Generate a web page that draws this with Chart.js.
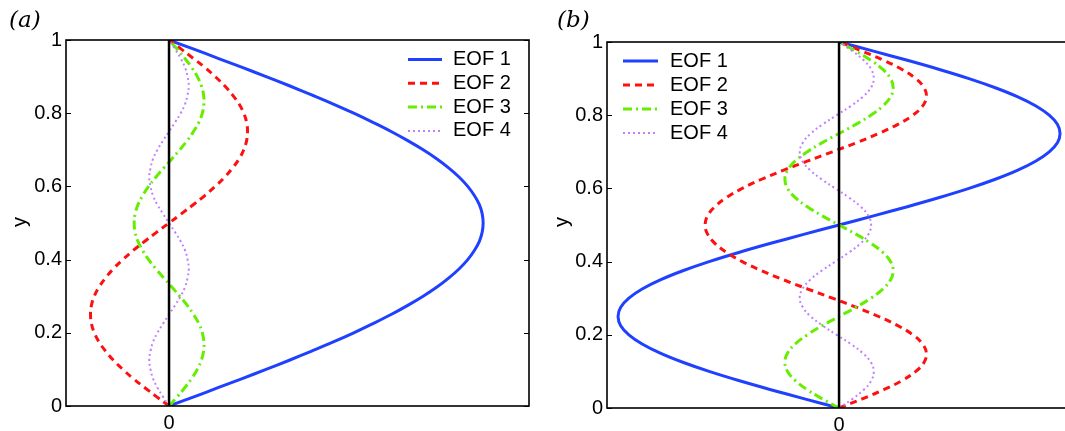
<!DOCTYPE html>
<html><head><meta charset="utf-8">
<script src="https://cdn.jsdelivr.net/npm/chart.js@4/dist/chart.umd.min.js"></script>
<style>
html,body{margin:0;padding:0;background:#fff;overflow:hidden;width:1065px;height:431px;}
#wrap{position:relative;width:1065px;height:431px;overflow:hidden;}
.pl{position:absolute;font-family:"DejaVu Serif",serif;font-style:italic;font-size:23px;color:#000;line-height:1;}
#ca{position:absolute;left:0;top:0;width:540px;height:431px;}
#cb{position:absolute;left:545px;top:0;width:540px;height:431px;}
</style></head><body>
<div id="wrap">
<canvas id="ca" width="540" height="431"></canvas>
<canvas id="cb" width="540" height="431"></canvas>
<div class="pl" style="left:9px;top:8px">(a)</div>
<div class="pl" style="left:557px;top:8px">(b)</div>
</div>
<script>
// ---- data ----
const yLevels = [0, 0.025, 0.05, 0.075, 0.1, 0.125, 0.15, 0.175, 0.2, 0.225, 0.25, 0.275, 0.3, 0.325, 0.35, 0.375, 0.4, 0.425, 0.45, 0.475, 0.5, 0.525, 0.55, 0.575, 0.6, 0.625, 0.65, 0.675, 0.7, 0.725, 0.75, 0.775, 0.8, 0.825, 0.85, 0.875, 0.9, 0.925, 0.95, 0.975, 1];

// panel (a)
const eofA1 = [0, .079, .156, .233, .309, .383, .454, .523, .588, .649, .707, .760, .809, .853, .891, .924, .951, .972, .988, .997, 1, .997, .988, .972, .951, .924, .891, .853, .809, .760, .707, .649, .588, .523, .454, .383, .309, .233, .156, .079, 0];
const eofA2 = [0, -.039, -.077, -.114, -.147, -.177, -.202, -.223, -.238, -.247, -.25, -.247, -.238, -.223, -.202, -.177, -.147, -.114, -.077, -.039, 0, .039, .077, .114, .147, .177, .202, .223, .238, .247, .25, .247, .238, .223, .202, .177, .147, .114, .077, .039, 0];
const eofA3 = [0, .026, .050, .072, .090, .103, .110, .111, .106, .095, .078, .058, .034, .009, -.017, -.042, -.065, -.084, -.099, -.108, -.111, -.108, -.099, -.084, -.065, -.042, -.017, .009, .034, .058, .078, .095, .106, .111, .110, .103, .090, .072, .050, .026, 0];
const eofA4 = [0, -.019, -.037, -.051, -.059, -.063, -.059, -.051, -.037, -.019, 0, .019, .037, .051, .059, .063, .059, .051, .037, .019, 0, -.019, -.037, -.051, -.059, -.063, -.059, -.051, -.037, -.019, 0, .019, .037, .051, .059, .063, .059, .051, .037, .019, 0];

// panel (b)
const eofB1 = [0, -.156, -.309, -.454, -.588, -.707, -.809, -.891, -.951, -.988, -1, -.988, -.951, -.891, -.809, -.707, -.588, -.454, -.309, -.156, 0, .156, .309, .454, .588, .707, .809, .891, .951, .988, 1, .988, .951, .891, .809, .707, .588, .454, .309, .156, 0];
const eofB2 = [0, .105, .202, .285, .347, .385, .395, .378, .334, .266, .179, .079, -.030, -.141, -.250, -.350, -.438, -.509, -.562, -.595, -.606, -.595, -.562, -.509, -.438, -.350, -.250, -.141, -.030, .079, .179, .266, .334, .378, .395, .385, .347, .285, .202, .105, 0];
const eofB3 = [0, -.076, -.144, -.198, -.233, -.245, -.233, -.198, -.144, -.076, 0, .076, .144, .198, .233, .245, .233, .198, .144, .076, 0, -.076, -.144, -.198, -.233, -.245, -.233, -.198, -.144, -.076, 0, .076, .144, .198, .233, .245, .233, .198, .144, .076, 0];
const eofB4 = [0, .061, .112, .146, .157, .144, .107, .053, -.011, -.074, -.128, -.164, -.178, -.166, -.131, -.079, -.017, .045, .098, .133, .145, .133, .098, .045, -.017, -.079, -.131, -.166, -.178, -.164, -.128, -.074, -.011, .053, .107, .144, .157, .146, .112, .061, 0];

const zeroX = [0, 0];
const zeroY = [0, 1];

const seriesLabels = ['EOF 1', 'EOF 2', 'EOF 3', 'EOF 4'];
const yTickVals = [0, 0.2, 0.4, 0.6, 0.8, 1];
const yTickLabels = ['0', '0.2', '0.4', '0.6', '0.8', '1'];
const xTickVals = [0];
const xTickLabels = ['0'];

// ---- styles ----
const styles = [
  {color: '#2040ff', width: 3, dash: []},
  {color: '#ff1010', width: 3, dash: [7, 5]},
  {color: '#66ee00', width: 3, dash: [9, 4, 2, 4]},
  {color: '#bf80ff', width: 2, dash: [2, 3]}
];
const FONT = '"Liberation Sans", Arial, sans-serif';

function pts(xs, ys) { return xs.map((v, i) => ({x: v, y: ys[i]})); }

const framePlugin = {
  id: 'frame',
  afterDatasetsDraw(chart, args, o) {
    const {ctx, chartArea: a, scales: {x, y}} = chart;
    ctx.save();
    ctx.strokeStyle = '#000';
    ctx.setLineDash([]);
    ctx.lineWidth = 1;
    const tl = 5;
    const seg = (x1, y1, x2, y2) => { ctx.beginPath(); ctx.moveTo(x1, y1); ctx.lineTo(x2, y2); ctx.stroke(); };
    y.ticks.forEach(t => {
      const py = Math.round(y.getPixelForValue(t.value)) + 0.5;
      seg(a.left, py, a.left + tl, py);
      seg(a.right, py, a.right - tl, py);
    });
    x.ticks.forEach(t => {
      const px = x.getPixelForValue(t.value);
      seg(px, a.bottom, px, a.bottom - tl);
      seg(px, a.top, px, a.top + tl);
    });
    ctx.lineWidth = 1.6;
    ctx.strokeRect(a.left, a.top, a.right - a.left, a.bottom - a.top);
    // legend
    ctx.font = '20px ' + FONT;
    ctx.fillStyle = '#000';
    ctx.textBaseline = 'middle';
    ctx.textAlign = 'left';
    seriesLabels.forEach((lab, i) => {
      const st = styles[i];
      const ry = o.ly0 + o.ldy * i;
      ctx.strokeStyle = st.color;
      ctx.lineWidth = st.width;
      ctx.setLineDash(st.dash);
      seg(o.sx0, ry, o.sx1, ry);
      ctx.setLineDash([]);
      ctx.fillText(lab, o.tx, ry);
    });
    // y title
    ctx.translate(o.ytx, o.yty);
    ctx.rotate(-Math.PI / 2);
    ctx.textAlign = 'center';
    ctx.fillText('y', 0, 0);
    ctx.restore();
  }
};

function makeChart(id, series, xmin, xmax, yAxisW, xAxisH, padTop, padRight, frameOpts) {
  const datasets = [{
    data: pts(zeroX, zeroY), borderColor: '#000', borderWidth: 2.5,
    showLine: true, pointRadius: 0, tension: 0, order: 0
  }];
  series.forEach((s, i) => {
    datasets.push({
      label: seriesLabels[i], data: pts(s, yLevels),
      borderColor: styles[i].color, borderWidth: styles[i].width,
      borderDash: styles[i].dash, showLine: true, pointRadius: 0,
      tension: 0.4, order: 4 - i, borderCapStyle: 'butt'
    });
  });
  return new Chart(document.getElementById(id), {
    type: 'scatter',
    data: {datasets},
    options: {
      responsive: false, animation: false, events: [],
      layout: {padding: {top: padTop, right: padRight, bottom: 0, left: 0}},
      plugins: {legend: {display: false}, tooltip: {enabled: false}, frame: frameOpts},
      scales: {
        x: {
          type: 'linear', min: xmin, max: xmax,
          afterBuildTicks: s => { s.ticks = xTickVals.map(v => ({value: v})); },
          afterFit: s => { s.height = xAxisH; },
          grid: {display: false, drawTicks: false}, border: {display: false},
          ticks: {font: {family: FONT, size: 20}, color: '#000', padding: 5, maxRotation: 0,
                  callback: (v, i) => xTickLabels[i]}
        },
        y: {
          type: 'linear', min: 0, max: 1,
          afterBuildTicks: s => { s.ticks = yTickVals.map(v => ({value: v})); },
          afterFit: s => { s.width = yAxisW; },
          grid: {display: false, drawTicks: false}, border: {display: false},
          ticks: {font: {family: FONT, size: 20}, color: '#000', padding: 4,
                  callback: (v, i) => yTickLabels[i]}
        }
      }
    },
    plugins: [framePlugin]
  });
}

makeChart('ca', [eofA1, eofA2, eofA3, eofA4], -0.328, 1.146, 66, 25, 40, 11,
  {sx0: 408, sx1: 442, tx: 453, ly0: 59.5, ldy: 23.8, ytx: 20, yty: 222});
makeChart('cb', [eofB1, eofB2, eofB3, eofB4], -1.05, 1.045, 62, 23, 42, 15,
  {sx0: 78, sx1: 113, tx: 125, ly0: 61, ldy: 24, ytx: 17, yty: 222});
</script>
</body></html>
